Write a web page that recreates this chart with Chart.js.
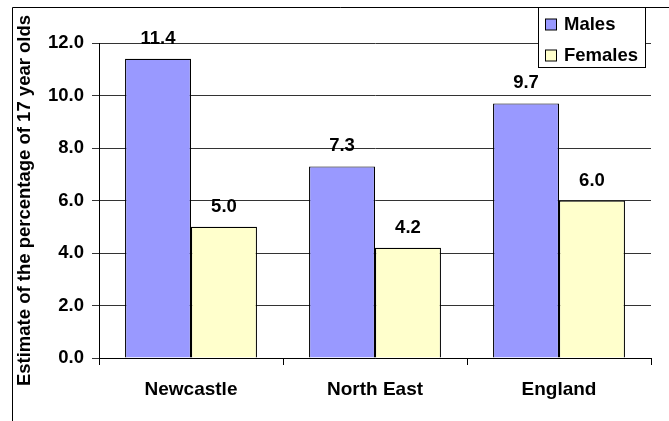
<!DOCTYPE html>
<html>
<head>
<meta charset="utf-8">
<script src="https://cdn.jsdelivr.net/npm/chart.js@4"></script>
<style>
  html, body { margin: 0; padding: 0; background: #fff; }
  #wrap { width: 669px; height: 421px; position: relative; }
</style>
</head>
<body>
<div id="wrap"><canvas id="chart" width="669" height="421"></canvas></div>
<script>
const categories = ['Newcastle', 'North East', 'England'];
const males = [11.4, 7.3, 9.7];
const females = [5.0, 4.2, 6.0];
const seriesNames = ['Males', 'Females'];
const yTitle = 'Estimate of the percentage of 17 year olds';

const font = 'Arial, "Liberation Sans", sans-serif';

// frame, value labels and the boxed legend
const extras = {
  id: 'extras',
  beforeDraw(chart) {
    const ctx = chart.ctx;
    ctx.save();
    ctx.strokeStyle = '#000';
    ctx.lineWidth = 1;
    ctx.beginPath();
    ctx.moveTo(12.5, 421);
    ctx.lineTo(12.5, 7.5);
    ctx.lineTo(669, 7.5);
    ctx.stroke();
    ctx.restore();
  },
  afterDraw(chart) {
    const ctx = chart.ctx;
    ctx.save();
    ctx.font = 'bold 18.5px ' + font;
    ctx.fillStyle = '#000';
    ctx.textAlign = 'center';
    ctx.textBaseline = 'middle';
    chart.data.datasets.forEach((ds, i) => {
      chart.getDatasetMeta(i).data.forEach((bar, j) => {
        ctx.fillText(ds.data[j].toFixed(1), bar.x, bar.y - 20);
      });
    });

    // legend
    const lx = 538.5, ly = 7.5, lw = 107, lh = 60;
    ctx.fillStyle = '#fff';
    ctx.fillRect(lx, ly, lw, lh);
    ctx.strokeStyle = '#000';
    ctx.strokeRect(lx, ly, lw, lh);
    ctx.textAlign = 'left';
    chart.data.datasets.forEach((ds, i) => {
      const cy = 25 + i * 31;
      ctx.fillStyle = ds.backgroundColor;
      ctx.fillRect(545.5, cy - 6, 11, 11);
      ctx.strokeRect(545.5, cy - 6, 11, 11);
      ctx.fillStyle = '#000';
      ctx.fillText(ds.label, 564, cy);
    });
    ctx.restore();
  }
};

new Chart(document.getElementById('chart'), {
  type: 'bar',
  data: {
    labels: categories,
    datasets: [
      { label: seriesNames[0], data: males, backgroundColor: '#9999FF', borderColor: '#000', borderWidth: 1.2 },
      { label: seriesNames[1], data: females, backgroundColor: '#FFFFCC', borderColor: '#000', borderWidth: 1.2 }
    ]
  },
  options: {
    responsive: false,
    animation: false,
    layout: { padding: { left: 14, top: 43, right: 18, bottom: 0 } },
    datasets: { bar: { categoryPercentage: 0.717, barPercentage: 1 } },
    plugins: { legend: { display: false }, tooltip: { enabled: false } },
    scales: {
      x: {
        afterFit(scale) { scale.height = 63; },
        grid: { offset: true, drawOnChartArea: false, drawTicks: true, tickLength: 7, color: '#000' },
        border: { color: '#000' },
        ticks: { color: '#000', padding: 13, font: { family: font, size: 19, weight: 'bold' } }
      },
      y: {
        min: 0,
        max: 12,
        afterFit(scale) { scale.width = 85; },
        grid: { color: '#333', tickLength: 7, tickColor: '#333' },
        border: { color: '#000' },
        ticks: {
          stepSize: 2,
          color: '#000',
          padding: 8,
          font: { family: font, size: 18.5, weight: 'bold' },
          callback: v => v.toFixed(1)
        },
        title: {
          display: true,
          text: yTitle,
          color: '#000',
          padding: 0,
          font: { family: font, size: 18.5, weight: 'bold' }
        }
      }
    }
  },
  plugins: [extras]
});
</script>
</body>
</html>
